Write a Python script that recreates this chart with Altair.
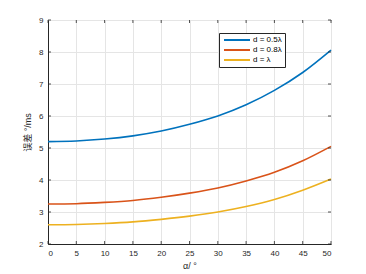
import altair as alt
import pandas as pd

alpha = [0, 5, 10, 15, 20, 25, 30, 35, 40, 45, 50]
err_05 = [5.20, 5.22, 5.28, 5.38, 5.53, 5.74, 6.00, 6.35, 6.80, 7.36, 8.06]
err_08 = [3.25, 3.26, 3.30, 3.36, 3.46, 3.59, 3.75, 3.97, 4.24, 4.60, 5.05]
err_10 = [2.60, 2.61, 2.64, 2.69, 2.77, 2.87, 3.00, 3.17, 3.39, 3.68, 4.03]
series = ["d = 0.5λ", "d = 0.8λ", "d = λ"]
colors = ["#0072BD", "#D95319", "#EDB120"]
x_ticks = [0, 5, 10, 15, 20, 25, 30, 35, 40, 45, 50]
y_ticks = [2, 3, 4, 5, 6, 7, 8, 9]

rows = []
for name, vals in zip(series, [err_05, err_08, err_10]):
    for a, v in zip(alpha, vals):
        rows.append({"alpha": a, "err": v, "series": name})
df = pd.DataFrame(rows)
xt = pd.DataFrame({"alpha": x_ticks})
yt = pd.DataFrame({"err": y_ticks})

FONT = "Liberation Sans, Noto Sans CJK SC"
W, H, TL = 283, 224, 3

xs = alt.Scale(domain=[0, 50], nice=False)
ys = alt.Scale(domain=[2, 9], nice=False)
xaxis = alt.Axis(values=x_ticks, title="α/ °", format="d")
yaxis = alt.Axis(values=y_ticks, title="误差 °/ms", format="d")

lines = alt.Chart(df).mark_line(interpolate="monotone", strokeWidth=1.6).encode(
    x=alt.X("alpha:Q", scale=xs, axis=xaxis),
    y=alt.Y("err:Q", scale=ys, axis=yaxis),
    color=alt.Color("series:N", scale=alt.Scale(domain=series, range=colors),
                    legend=alt.Legend(title=None, orient="none", legendX=171, legendY=13,
                                      symbolType="M-6.5,0H6.5", symbolSize=16, symbolStrokeWidth=2,
                                      symbolOffset=11,
                                      labelFontSize=8, labelFont=FONT, labelColor="#000000",
                                      strokeColor="#262626", fillColor="white",
                                      padding=3, rowPadding=2, labelOffset=12)),
)

tick_color = "#262626"
xtick_bottom = alt.Chart(xt).mark_rule(color=tick_color, strokeWidth=0.8).encode(
    x=alt.X("alpha:Q", scale=xs, axis=xaxis), y=alt.value(H - TL), y2=alt.value(H))
xtick_top = alt.Chart(xt).mark_rule(color=tick_color, strokeWidth=0.8).encode(
    x=alt.X("alpha:Q", scale=xs, axis=xaxis), y=alt.value(0), y2=alt.value(TL))
ytick_left = alt.Chart(yt).mark_rule(color=tick_color, strokeWidth=0.8).encode(
    y=alt.Y("err:Q", scale=ys, axis=yaxis), x=alt.value(0), x2=alt.value(TL))
ytick_right = alt.Chart(yt).mark_rule(color=tick_color, strokeWidth=0.8).encode(
    y=alt.Y("err:Q", scale=ys, axis=yaxis), x=alt.value(W - TL), x2=alt.value(W))

chart = alt.layer(lines, xtick_bottom, xtick_top, ytick_left, ytick_right).properties(
    width=W, height=H,
    autosize=alt.AutoSizeParams(type="none"),
    padding={"left": 48, "top": 20, "right": 35, "bottom": 30},
).configure_view(
    stroke="#262626", strokeWidth=1
).configure_axis(
    labelFont=FONT, titleFont=FONT, labelFontSize=8, titleFontSize=9,
    labelColor="#262626", titleColor="#262626",
    gridColor="#e5e5e5", gridOpacity=1, domainColor="#262626",
    tickSize=0, labelPadding=5, titleFontWeight="normal",
).configure_axisY(titlePadding=6).configure_axisX(titlePadding=4)

chart.save("out.html", embed_options={"renderer": "svg", "actions": False})
